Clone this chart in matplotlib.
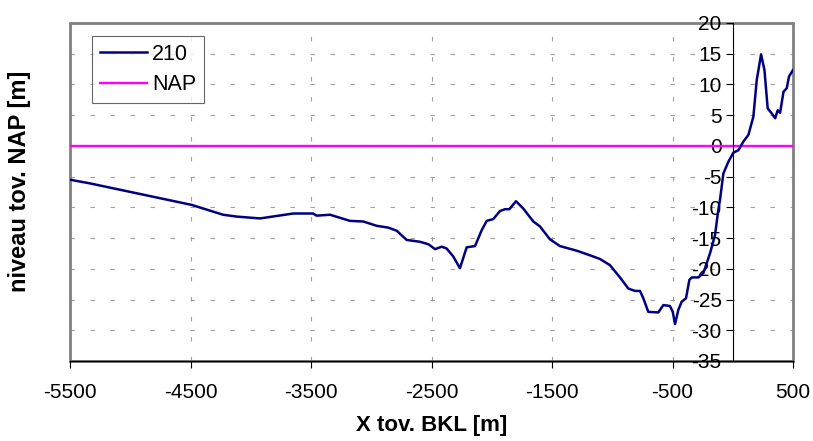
import matplotlib
matplotlib.use("Agg")
import matplotlib.pyplot as plt
from matplotlib.patches import Rectangle

plt.rcParams["font.family"] = ["Liberation Sans", "DejaVu Sans"]
plt.rcParams["axes.unicode_minus"] = False

# profile 210
x_210 = [-5500, -5334, -4490, -4230, -4117, -3923, -3647, -3483, -3453, -3342,
         -3176, -3066, -2955, -2858, -2789, -2706, -2595, -2526, -2471, -2415,
         -2374, -2319, -2264, -2208, -2139, -2083, -2042, -1987, -1932, -1890,
         -1854, -1799, -1738, -1655, -1600, -1517, -1434, -1295, -1185, -1102,
         -1019, -936, -867, -811, -770, -742, -701, -618, -576, -521,
         -498, -479, -452, -424, -388, -360, -340, -286, -244, -189,
         -147, -120, -106, -78, -37, 5, 47, 88, 130, 171,
         199, 235, 263, 290, 323, 352, 373, 393, 421, 448,
         467, 500]
y_210 = [-5.5, -6.1, -9.6, -11.2, -11.5, -11.8, -11.0, -11.0, -11.35, -11.2,
         -12.2, -12.3, -13.0, -13.3, -13.8, -15.3, -15.6, -16.0, -16.8, -16.4,
         -16.7, -18.0, -19.9, -16.5, -16.3, -13.7, -12.2, -11.9, -10.6, -10.3,
         -10.3, -9.0, -10.2, -12.3, -13.1, -15.2, -16.3, -17.05, -17.8, -18.4,
         -19.4, -21.4, -23.2, -23.6, -23.6, -24.8, -27.0, -27.1, -25.9, -26.05,
         -27.0, -29.0, -26.7, -25.35, -24.8, -21.8, -21.4, -21.4, -20.7, -17.5,
         -14.5, -10.4, -8.8, -4.5, -2.6, -1.1, -0.7, 0.7, 1.8, 4.75,
         10.7, 14.9, 12.35, 6.1, 5.3, 4.5, 5.8, 5.4, 8.8, 9.4,
         11.3, 12.35]
nap_level = 0

x_ticks = [-5500, -4500, -3500, -2500, -1500, -500, 500]
y_ticks = [-35, -30, -25, -20, -15, -10, -5, 0, 5, 10, 15, 20]

fig = plt.figure(figsize=(8.13, 4.41), dpi=100)
ax = fig.add_axes([70 / 813, 1 - 361 / 441, 723 / 813, 338 / 441])

grid_style = dict(color="#a0a0a0", lw=0.8, ls=(0, (4, 14)), zorder=0)
for gx in x_ticks[1:-1]:
    ax.axvline(gx, **grid_style)
for gy in y_ticks[1:-1]:
    ax.axhline(gy, **grid_style)

ax.axhline(nap_level, color="#ff00ff", lw=1.7, zorder=2, label="NAP")
ax.plot(x_210, y_210, color="#000080", lw=1.8, zorder=3, label="210")

ax.set_xlim(-5500, 500)
ax.set_ylim(-35, 20)
ax.set_xticks(x_ticks)
ax.set_yticks(y_ticks)

ax.spines["left"].set_position(("data", 0))
ax.spines["left"].set_color("black")
ax.spines["left"].set_linewidth(0.8)
ax.spines["bottom"].set_color("black")
ax.spines["bottom"].set_linewidth(1.0)
ax.spines["top"].set_visible(False)
ax.spines["right"].set_visible(False)
ax.add_patch(Rectangle((0, 0), 1, 1, transform=ax.transAxes, fill=False,
                       edgecolor="#808080", lw=2, zorder=1, clip_on=False))

ax.tick_params(axis="y", direction="out", length=5, width=0.8, pad=3, labelsize=15)
ax.tick_params(axis="x", direction="out", length=5, width=0.8, pad=11, labelsize=15)

ax.set_xlabel("X tov. BKL [m]", fontsize=16, fontweight="bold", labelpad=9)
fig.text(20 / 813, 1 - 181 / 441, "niveau tov. NAP [m]", rotation=90,
         fontsize=17, fontweight="bold", ha="center", va="center")

handles, labels = ax.get_legend_handles_labels()
leg = ax.legend(handles[::-1], labels[::-1], loc="upper left",
                bbox_to_anchor=(22 / 723, 325 / 338), borderaxespad=0,
                fontsize=15.5, frameon=True, fancybox=False, edgecolor="#404040",
                handlelength=2.2, handletextpad=0.25, labelspacing=0.45,
                borderpad=0.35)
leg.get_frame().set_linewidth(0.8)

fig.savefig("out.png", dpi=100)
